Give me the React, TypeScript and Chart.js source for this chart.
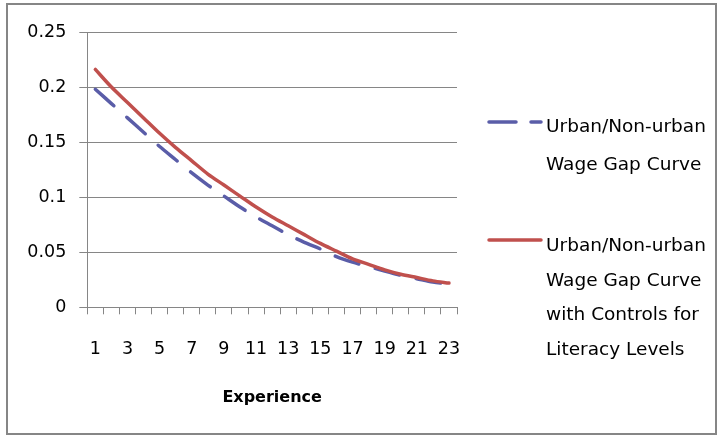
import React, { useEffect, useRef } from 'react';
import { Chart, registerables } from 'chart.js';

Chart.register(...registerables);

const experience = ['1','2','3','4','5','6','7','8','9','10','11','12','13','14','15','16','17','18','19','20','21','22','23'];
const wageGapCurve = [0.198,0.185,0.172,0.159,0.146,0.134,0.122,0.111,0.101,0.091,0.082,0.074,0.066,0.059,0.053,0.046,0.041,0.037,0.033,0.029,0.026,0.023,0.021];
const wageGapLiteracy = [0.216,0.200,0.186,0.172,0.158,0.145,0.133,0.121,0.111,0.101,0.091,0.082,0.074,0.066,0.058,0.051,0.044,0.039,0.034,0.030,0.027,0.024,0.022];
const blueLabel = ['Urban/Non-urban', 'Wage Gap Curve'];
const redLabel = ['Urban/Non-urban', 'Wage Gap Curve', 'with Controls for', 'Literacy Levels'];
const xTitle = 'Experience';

const BLUE = '#5A5DA8';
const RED = '#C0504D';
const GRID = '#868686';
const FONT = 'DejaVu Sans';

const framePlugin = {
  id: 'frameAndLegend',
  beforeDraw(chart: any) {
    const ctx = chart.ctx;
    ctx.save();
    ctx.fillStyle = '#ffffff';
    ctx.fillRect(0, 0, chart.width, chart.height);
    ctx.strokeStyle = GRID;
    ctx.lineWidth = 2;
    ctx.strokeRect(7, 4, 709, 430);
    ctx.restore();
  },
  afterDraw(chart: any) {
    const ctx = chart.ctx;
    ctx.save();
    ctx.lineWidth = 3.5;
    ctx.lineCap = 'round';
    ctx.strokeStyle = BLUE;
    ctx.setLineDash([27, 15]);
    ctx.beginPath();
    ctx.moveTo(489, 122);
    ctx.lineTo(541, 122);
    ctx.stroke();
    ctx.setLineDash([]);
    ctx.strokeStyle = RED;
    ctx.beginPath();
    ctx.moveTo(489, 240);
    ctx.lineTo(541, 240);
    ctx.stroke();

    ctx.fillStyle = '#000';
    ctx.font = `18.5px "${FONT}"`;
    ctx.textAlign = 'left';
    ctx.textBaseline = 'alphabetic';
    const blueY = [131.5, 169.5];
    blueLabel.forEach((t, i) => ctx.fillText(t, 546, blueY[i]));
    const redY = [251, 285.5, 320, 355];
    redLabel.forEach((t, i) => ctx.fillText(t, 546, redY[i]));
    ctx.restore();
  },
};

export default function App() {
  const ref = useRef<HTMLCanvasElement | null>(null);
  useEffect(() => {
    if (!ref.current) return;
    const chart = new Chart(ref.current, {
      type: 'line',
      data: {
        labels: experience,
        datasets: [
          {
            label: blueLabel.join(' '),
            data: wageGapCurve,
            borderColor: BLUE,
            backgroundColor: BLUE,
            borderWidth: 3.5,
            borderDash: [25, 17],
            borderCapStyle: 'round',
            pointRadius: 0,
            tension: 0.3,
            order: 2,
          },
          {
            label: redLabel.join(' '),
            data: wageGapLiteracy,
            borderColor: RED,
            backgroundColor: RED,
            borderWidth: 3.5,
            borderCapStyle: 'round',
            pointRadius: 0,
            tension: 0.3,
            order: 1,
          },
        ],
      },
      options: {
        animation: false,
        responsive: false,
        maintainAspectRatio: false,
        layout: { padding: { left: 8, top: 32, right: 261, bottom: 0 } },
        plugins: {
          legend: { display: false },
          tooltip: { enabled: false },
        },
        scales: {
          x: {
            type: 'category',
            offset: true,
            grid: { offset: true, drawOnChartArea: false, tickLength: 7, color: GRID },
            border: { color: GRID, width: 1 },
            ticks: {
              autoSkip: false,
              maxRotation: 0,
              padding: 25,
              color: '#000',
              font: { family: FONT, size: 17.5 },
              callback: (_v: any, i: number) => (i % 2 === 0 ? experience[i] : ''),
            },
            title: {
              display: true,
              text: xTitle,
              color: '#000',
              font: { family: FONT, size: 16, weight: 'bold' },
              padding: { top: 29, bottom: 29 },
            },
            afterFit: (scale: any) => { scale.height = 128.7; },
          },
          y: {
            min: 0,
            max: 0.25,
            ticks: {
              stepSize: 0.05,
              padding: 13,
              color: '#000',
              font: { family: FONT, size: 17.5 },
              callback: (v: any) => String(Number(Number(v).toFixed(2))),
            },
            grid: { color: GRID, tickLength: 8 },
            border: { color: GRID, width: 1 },
            afterFit: (scale: any) => { scale.width = 79.3; },
          },
        },
      },
      plugins: [framePlugin],
    } as any);
    return () => chart.destroy();
  }, []);
  return (
    <div style={{ position: 'absolute', left: 0, top: 0, width: 718, height: 436, background: '#fff' }}>
      <canvas ref={ref} width={718} height={436} style={{ display: 'block' }} />
    </div>
  );
}
